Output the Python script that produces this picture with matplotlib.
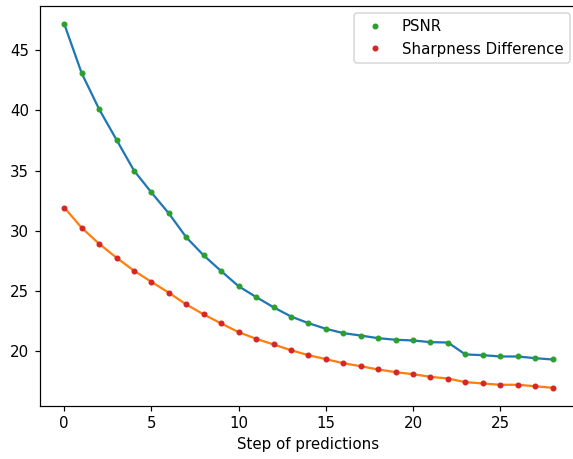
import numpy as np
import matplotlib
matplotlib.use("Agg")
import matplotlib.pyplot as plt

# per-step metrics over the prediction horizon
steps = np.arange(29)
psnr = [47.18, 43.09, 40.10, 37.55, 35.00, 33.18, 31.44, 29.45, 27.95, 26.65,
        25.39, 24.50, 23.65, 22.88, 22.33, 21.86, 21.50, 21.30, 21.08, 20.95,
        20.89, 20.75, 20.72, 19.73, 19.67, 19.56, 19.56, 19.42, 19.31]
sharp_diff = [31.93, 30.25, 28.92, 27.76, 26.68, 25.76, 24.85, 23.88, 23.05, 22.30,
              21.58, 21.03, 20.56, 20.08, 19.67, 19.34, 19.00, 18.75, 18.48, 18.26,
              18.09, 17.87, 17.73, 17.43, 17.32, 17.21, 17.21, 17.09, 16.96]

DPI = 108


def main():
    fig = plt.figure(figsize=(573 / DPI, 459 / DPI), dpi=DPI)
    ax = fig.add_subplot(111)
    # the right spine falls just past the edge of the canvas
    fig.subplots_adjust(left=0.0695, right=577 / 573, top=0.9875, bottom=0.1155)

    ax.plot(steps, psnr)
    ax.plot(steps, sharp_diff)
    ax.plot(steps, psnr, ".", label="PSNR")
    ax.plot(steps, sharp_diff, ".", label="Sharpness Difference")

    ax.set_xlabel("Step of predictions")
    ax.legend(loc="upper right")

    fig.savefig("out.png", dpi=DPI)


if __name__ == "__main__":
    main()
